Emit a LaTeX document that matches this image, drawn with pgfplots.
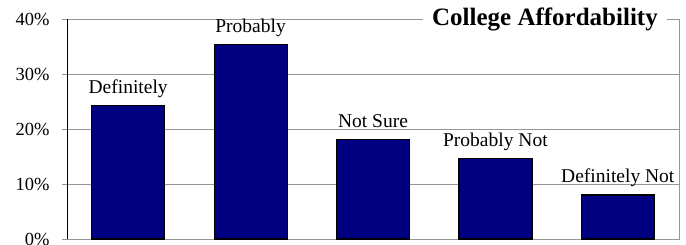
\documentclass[border=0pt]{standalone}
\usepackage{fontspec}
\setmainfont{Liberation Serif}
\usepackage{pgfplots}
\pgfplotsset{compat=1.18}
\definecolor{barnavy}{RGB}{0,0,128}
\definecolor{gridgray}{RGB}{150,150,150}
\begin{document}
\begin{tikzpicture}
\begin{axis}[
  scale only axis, width=612pt, height=220pt,
  xmin=-0.5, xmax=4.5, ymin=0, ymax=40,
  ybar, bar width=73pt,
  xtick=\empty,
  ytick={0,10,20,30,40},
  yticklabels={0\%,10\%,20\%,30\%,40\%},
  ymajorgrids, grid style={gridgray, line width=0.8pt},
  axis line style={gridgray, line width=0.8pt},
  tick align=outside, major tick length=5pt,
  ytick style={gridgray, line width=0.8pt},
  ytick pos=left,
  yticklabel style={font=\fontsize{18.5}{20}\selectfont, xshift=-9pt},
  nodes near coords, point meta=explicit symbolic,
  every node near coord/.append style={font=\fontsize{19.5}{21}\selectfont, anchor=base, yshift=12pt, black},
  clip=false,
]
\addplot[fill=barnavy, draw=black, line width=1.2pt] coordinates {
  (0,24.2) [Definitely]
  (1,35.3) [Probably]
  (2,18.1) [Not Sure]
  (3,14.6) [Probably Not]
  (4,8.0) [Definitely Not]
};
\draw[black, line width=0.8pt] (rel axis cs:0,0) -- (rel axis cs:0,1);
\node[fill=white, anchor=base east, inner xsep=9pt, inner ysep=3pt,
      font=\bfseries\fontsize{25}{27}\selectfont, xshift=-12pt, yshift=-7pt]
      at (rel axis cs:1,1) {College Affordability};
\end{axis}
\pgfresetboundingbox
\useasboundingbox (-67pt,-6pt) rectangle (619pt,239pt);
\end{tikzpicture}
\end{document}
